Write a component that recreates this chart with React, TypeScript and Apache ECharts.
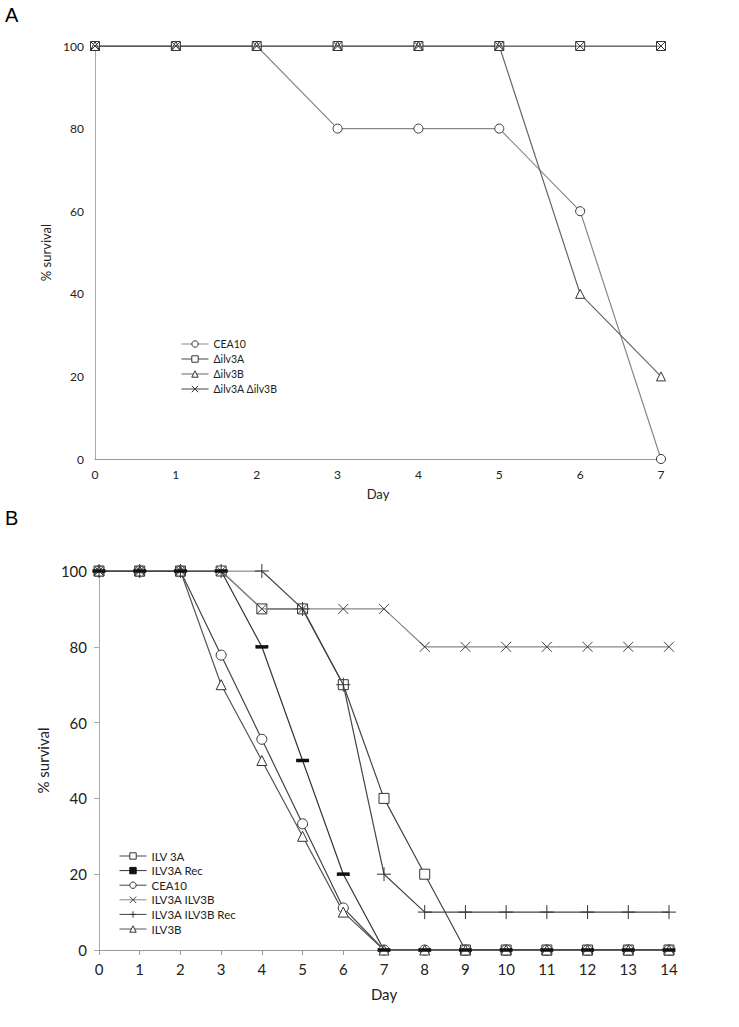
import React, { useEffect, useRef } from "react";
import * as echarts from "echarts";

// Panel A
const daysA = [0, 1, 2, 3, 4, 5, 6, 7];
const cea10A = [100, 100, 100, 80, 80, 80, 60, 0];
const ilv3A_A = [100, 100, 100, 100, 100, 100, 100, 100];
const ilv3B_A = [100, 100, 100, 100, 100, 100, 40, 20];
const ilv3AB_A = [100, 100, 100, 100, 100, 100, 100, 100];
const namesA = ["CEA10", "Δilv3A", "Δilv3B", "Δilv3A Δilv3B"];

// Panel B
const daysB = [0, 1, 2, 3, 4, 5, 6, 7, 8, 9, 10, 11, 12, 13, 14];
const ilv3A_B = [100, 100, 100, 100, 90, 90, 70, 40, 20, 0, 0, 0, 0, 0, 0];
const ilv3ARec_B = [100, 100, 100, 100, 80, 50, 20, 0, 0, 0, 0, 0, 0, 0, 0];
const cea10B = [100, 100, 100, 77.8, 55.6, 33.3, 11.1, 0, 0, 0, 0, 0, 0, 0, 0];
const ilv3AB_B = [100, 100, 100, 100, 90, 90, 90, 90, 80, 80, 80, 80, 80, 80, 80];
const ilv3ABRec_B = [100, 100, 100, 100, 100, 90, 70, 20, 10, 10, 10, 10, 10, 10, 10];
const ilv3B_B = [100, 100, 100, 70, 50, 30, 10, 0, 0, 0, 0, 0, 0, 0, 0];
const namesB = ["ILV 3A", "ILV3A Rec", "CEA10 ", "ILV3A ILV3B", "ILV3A ILV3B Rec", "ILV3B"];

const X_SYM = "path://M0,0L10,10M10,0L0,10";
const PLUS_SYM = "path://M5,0L5,10M0,5L10,5";
const DASH_SYM = "path://M0,0L10,0L10,3L0,3Z";

const pairs = (xs: number[], ys: number[]) => xs.map((x, i) => [x, ys[i]]);

export default function App() {
  const ref = useRef<HTMLDivElement>(null);
  useEffect(() => {
    if (!ref.current) return;
    const chart = echarts.init(ref.current, null, { renderer: "svg" });
    const fA = "Lato, 'Open Sans', sans-serif";
    const fB = "'Liberation Sans Narrow', Lato, sans-serif";

    const mk = (
      name: string,
      grid: number,
      xs: number[],
      ys: number[],
      symbol: string,
      size: number | number[],
      lineColor: string,
      fill = "#fff",
      border = "#333",
      z = 2
    ) => ({
      name,
      type: "line",
      xAxisIndex: grid,
      yAxisIndex: grid,
      data: pairs(xs, ys),
      symbol,
      symbolSize: size,
      showAllSymbol: true,
      z,
      lineStyle: { color: lineColor, width: 1.2 },
      itemStyle: { color: fill, borderColor: border, borderWidth: 1 },
      emphasis: { disabled: true },
    });

    chart.setOption({
      animation: false,
      backgroundColor: "#fff",
      graphic: [
        { type: "text", left: 5, top: 5, style: { text: "A", font: "20px Arial", fill: "#000" } },
        { type: "text", left: 5, top: 508, style: { text: "B", font: "20px Arial", fill: "#000" } },
      ],
      legend: [
        {
          data: namesA,
          orient: "vertical",
          left: 176,
          top: 333,
          itemWidth: 27,
          itemHeight: 8,
          itemGap: 3,
          itemStyle: { borderWidth: 1 },
          lineStyle: { width: 1 },
          textStyle: { fontFamily: fA, fontSize: 10.5, lineHeight: 12, color: "#222" },
          selectedMode: false,
        },
        {
          data: namesB,
          orient: "vertical",
          left: 114,
          top: 845,
          itemWidth: 27,
          itemHeight: 8,
          itemGap: 2.6,
          itemStyle: { borderWidth: 1 },
          lineStyle: { width: 1 },
          textStyle: { fontFamily: fB, fontSize: 11.5, lineHeight: 12, color: "#222" },
          selectedMode: false,
        },
      ],
      grid: [
        { left: 95, width: 566, top: 46, height: 413 },
        { left: 99, width: 570, top: 571, height: 379 },
      ],
      xAxis: [
        {
          gridIndex: 0,
          type: "value",
          min: 0,
          max: 7,
          interval: 1,
          name: "Day",
          nameLocation: "middle",
          nameGap: 28,
          nameTextStyle: { fontFamily: fA, fontSize: 13, color: "#222" },
          axisLine: { lineStyle: { color: "#999" } },
          axisTick: { show: false },
          axisLabel: { fontFamily: fA, fontSize: 12, color: "#222", margin: 9 },
          splitLine: { show: false },
        },
        {
          gridIndex: 1,
          type: "value",
          min: 0,
          max: 14,
          interval: 1,
          name: "Day",
          nameLocation: "middle",
          nameGap: 36,
          nameTextStyle: { fontFamily: fB, fontSize: 15, color: "#222" },
          axisLine: { lineStyle: { color: "#999" } },
          axisTick: { show: true, length: 5, lineStyle: { color: "#999" } },
          axisLabel: { fontFamily: fB, fontSize: 15, color: "#222", margin: 11 },
          splitLine: { show: false },
        },
      ],
      yAxis: [
        {
          gridIndex: 0,
          type: "value",
          min: 0,
          max: 100,
          interval: 20,
          name: "% survival",
          nameLocation: "middle",
          nameGap: 30,
          nameTextStyle: { fontFamily: fA, fontSize: 13, color: "#222" },
          axisLine: { show: true, lineStyle: { color: "#aaa" } },
          axisTick: { show: false },
          axisLabel: { fontFamily: fA, fontSize: 12, color: "#222", margin: 11 },
          splitLine: { show: false },
        },
        {
          gridIndex: 1,
          type: "value",
          min: 0,
          max: 100,
          interval: 20,
          name: "% survival",
          nameLocation: "middle",
          nameGap: 45,
          nameTextStyle: { fontFamily: fB, fontSize: 15, color: "#222" },
          axisLine: { show: true, lineStyle: { color: "#aaa" } },
          axisTick: { show: true, length: 5, lineStyle: { color: "#aaa" } },
          axisLabel: { fontFamily: fB, fontSize: 15, color: "#222", margin: 12 },
          splitLine: { show: false },
        },
      ],
      series: [
        mk(namesA[0], 0, daysA, cea10A, "circle", 9, "#888"),
        mk(namesA[1], 0, daysA, ilv3A_A, "rect", 9, "#444"),
        mk(namesA[2], 0, daysA, ilv3B_A, "triangle", 9, "#666"),
        mk(namesA[3], 0, daysA, ilv3AB_A, X_SYM, 8, "#444", "none", "#333", 3),

        mk(namesB[0], 1, daysB, ilv3A_B, "rect", 10, "#444"),
        mk(namesB[1], 1, daysB, ilv3ARec_B, DASH_SYM, [11, 3], "#333", "#111", "#111", 4),
        mk(namesB[2], 1, daysB, cea10B, "circle", 10, "#444"),
        mk(namesB[3], 1, daysB, ilv3AB_B, X_SYM, 10, "#888", "none", "#444", 3),
        mk(namesB[4], 1, daysB, ilv3ABRec_B, PLUS_SYM, 14, "#444", "none", "#333", 3),
        mk(namesB[5], 1, daysB, ilv3B_B, "triangle", 10, "#555"),
      ],
    });
    return () => chart.dispose();
  }, []);
  return (
    <div
      ref={ref}
      style={{ position: "fixed", left: 0, top: 0, width: 739, height: 1027 }}
    />
  );
}
